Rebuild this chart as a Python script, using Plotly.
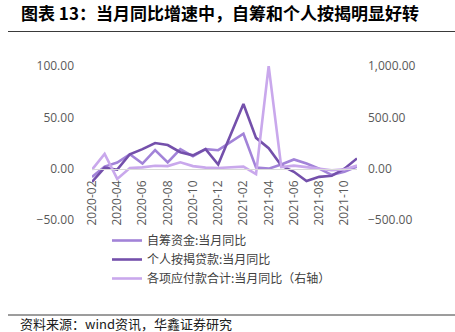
import plotly.graph_objects as go

# Monthly categories
months = [
    "2020-02", "2020-03", "2020-04", "2020-05", "2020-06", "2020-07",
    "2020-08", "2020-09", "2020-10", "2020-11", "2020-12", "2021-01",
    "2021-02", "2021-03", "2021-04", "2021-05", "2021-06", "2021-07",
    "2021-08", "2021-09", "2021-10", "2021-11",
]
tick_months = months[::2]

# Year-on-year growth, %
self_raised = [-8, 2, 6, 14, 5, 18, 6, 19, 12, 19, 18, 26,
               34, 1, 0, 4, 9, 5, 0, -6, -3, 2]
mortgage = [-13, 1, -1, 14, 19, 25, 23, 16, 13, 19, 4, 34,
            63, 30, 20, 3, -3, -12, -8, -7, 0, 10]
payables = [-10, 144, -100, 7, 13, 29, 25, 62, 25, 10, 7, 13,
            20, -52, 1000, 15, 30, 15, 0, -15, -7, 30]

left_ticks = [-50, 0, 50, 100]
right_ticks = [-500, 0, 500, 1000]

names = ["自筹资金:当月同比", "个人按揭贷款:当月同比", "各项应付款合计:当月同比（右轴）"]
colors = ["#a283d8", "#7450ab", "#c9a8ec"]

# plot area in pixels
L, R, T, B = 92, 357, 66, 220
W, H = 455, 332


def px2x(px):
    return (px - L) / (R - L)


def py2y(py):
    return (B - py) / (B - T)


fig = go.Figure()
fig.add_trace(go.Scatter(x=months, y=self_raised, name=names[0], mode="lines",
                         line=dict(color=colors[0], width=2.6)))
fig.add_trace(go.Scatter(x=months, y=mortgage, name=names[1], mode="lines",
                         line=dict(color=colors[1], width=2.6)))
fig.add_trace(go.Scatter(x=months, y=payables, name=names[2], mode="lines",
                         line=dict(color=colors[2], width=2.6), yaxis="y2"))

tick_font = dict(family="Open Sans, sans-serif", size=12, color="#595959")
cjk = "Noto Sans CJK SC"

fig.update_layout(
    width=W, height=H,
    margin=dict(l=L, r=W - R, t=T, b=H - B),
    paper_bgcolor="white", plot_bgcolor="white",
    showlegend=True,
    legend=dict(x=px2x(107), y=py2y(226), xanchor="left", yanchor="top",
                font=dict(family=cjk, size=12, color="#404040"),
                bgcolor="rgba(0,0,0,0)", tracegroupgap=0),
    xaxis=dict(type="category", anchor="free", position=1 / 3,
               tickmode="array", tickvals=tick_months, ticktext=tick_months,
               tickangle=-90, tickfont=tick_font, ticklabelstandoff=6,
               showline=True, linecolor="#d9d9d9", linewidth=1,
               showgrid=False, zeroline=False, ticks=""),
    yaxis=dict(range=[-50, 100], tickvals=left_ticks, tickformat=".2f",
               tickfont=tick_font, showgrid=False, zeroline=False,
               showline=False, ticklabelstandoff=17),
    yaxis2=dict(range=[-500, 1000], tickvals=right_ticks, tickformat=",.2f",
                overlaying="y", side="right", tickfont=tick_font,
                showgrid=False, zeroline=False, showline=False,
                ticklabelstandoff=10),
    shapes=[
        dict(type="line", xref="paper", yref="paper",
             x0=px2x(8), x1=px2x(455), y0=py2y(31.5), y1=py2y(31.5),
             line=dict(color="#3a3a3a", width=1)),
        dict(type="line", xref="paper", yref="paper",
             x0=px2x(8), x1=px2x(455), y0=py2y(315), y1=py2y(315),
             line=dict(color="#3a3a3a", width=1)),
    ],
    annotations=[
        dict(text="<b>图表 13：当月同比增速中，自筹和个人按揭明显好转</b>",
             xref="paper", yref="paper", x=px2x(19), y=py2y(12),
             xanchor="left", yanchor="middle", showarrow=False,
             font=dict(family=cjk, size=17, color="#000000")),
        dict(text="资料来源：wind资讯，华鑫证券研究",
             xref="paper", yref="paper", x=px2x(18), y=py2y(323),
             xanchor="left", yanchor="middle", showarrow=False,
             font=dict(family=cjk, size=13, color="#202020")),
    ],
)

fig.write_html("out.html")
